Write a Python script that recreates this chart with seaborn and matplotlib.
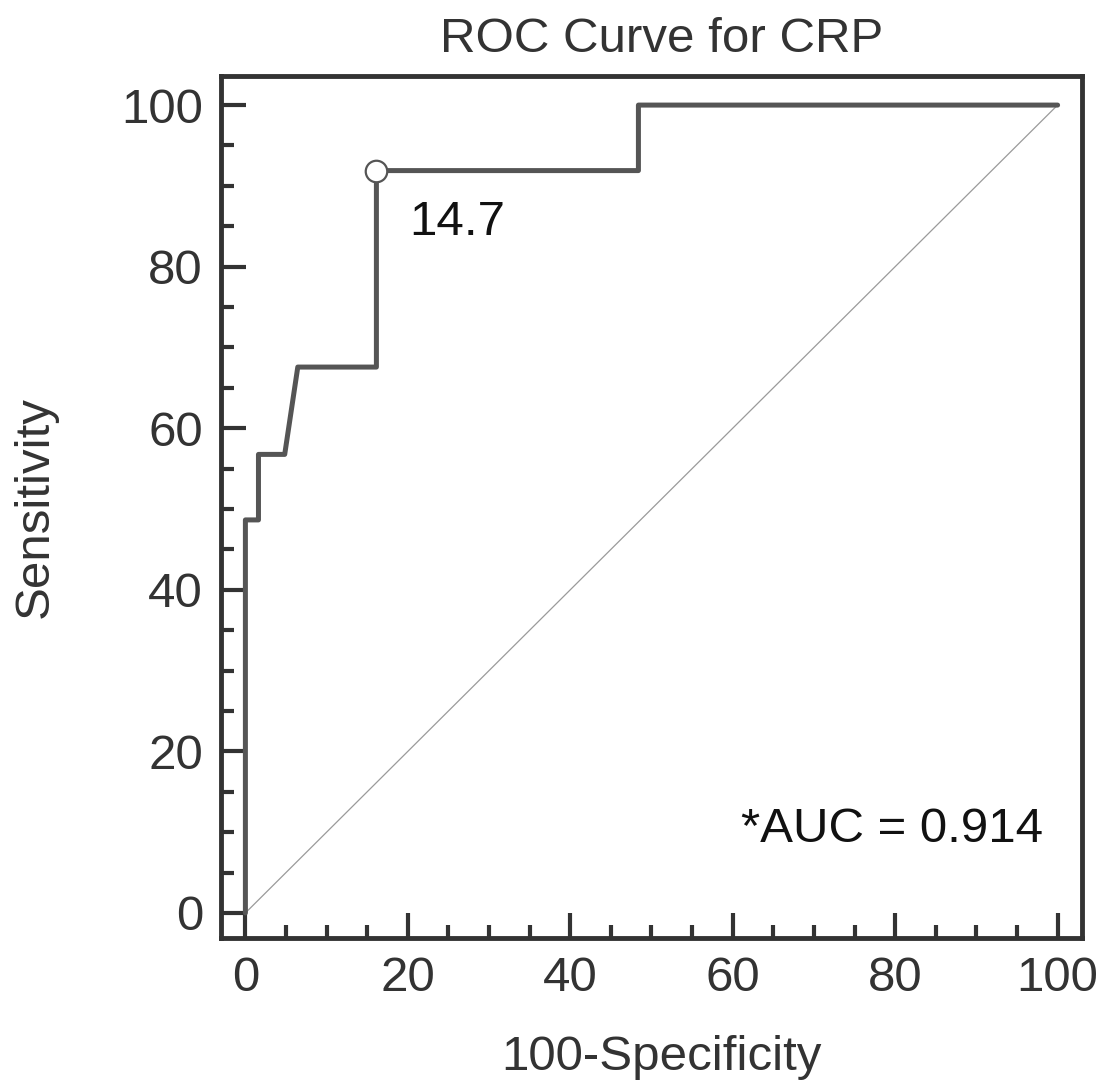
import matplotlib
matplotlib.use("Agg")
import matplotlib.pyplot as plt
import seaborn as sns
import pandas as pd
from matplotlib.ticker import MultipleLocator

# ROC data (100-Specificity, Sensitivity)
fpr = [0.0, 0.0, 1.61, 1.61, 4.84, 6.45, 16.13, 16.13, 48.39, 48.39, 100.0]
tpr = [0.0, 48.65, 48.65, 56.76, 56.76, 67.57, 67.57, 91.89, 91.89, 100.0, 100.0]
diag_x = [0, 100]
diag_y = [0, 100]
cut_x = [16.13]
cut_y = [91.89]
cut_label = "14.7"
auc_label = "*AUC = 0.914"

sns.set_theme(style="white")
plt.rcParams['font.family'] = ['Liberation Sans', 'DejaVu Sans']

FS = 35.5
fig = plt.figure(figsize=(10.98, 10.81), dpi=100)
ax = fig.add_axes([0.2013, 0.1323, 0.7841, 0.7974])

df = pd.DataFrame({"x": fpr, "y": tpr})
ddf = pd.DataFrame({"x": diag_x, "y": diag_y})
sns.lineplot(data=ddf, x="x", y="y", ax=ax, color="#9a9a9a", linewidth=0.9, sort=False, estimator=None)
sns.lineplot(data=df, x="x", y="y", ax=ax, color="#555555", linewidth=3.6, sort=False, estimator=None)
sns.scatterplot(x=cut_x, y=cut_y, ax=ax, s=240, color="white", edgecolor="#555555", linewidth=1.6, zorder=5)

ax.text(20.2, 85.5, cut_label, fontsize=FS, color="#111111", ha="left", va="center")
ax.text(98.2, 10.3, auc_label, fontsize=FS, color="#111111", ha="right", va="center")

ax.set_xlim(-3, 103)
ax.set_ylim(-3.1, 103.6)
ax.xaxis.set_major_locator(MultipleLocator(20))
ax.xaxis.set_minor_locator(MultipleLocator(5))
ax.yaxis.set_major_locator(MultipleLocator(20))
ax.yaxis.set_minor_locator(MultipleLocator(5))
ax.tick_params(axis="both", which="major", direction="in", length=18, width=3,
               labelsize=FS, colors="#333333", pad=13, bottom=True, left=True, top=False, right=False)
ax.tick_params(axis="both", which="minor", direction="in", length=9.5, width=3,
               colors="#333333", bottom=True, left=True, top=False, right=False)
for sp in ax.spines.values():
    sp.set_linewidth(3.5)
    sp.set_color("#333333")

ax.set_xlabel("100-Specificity", fontsize=FS, color="#333333")
ax.set_ylabel("Sensitivity", fontsize=FS, color="#333333")
ax.xaxis.set_label_coords(0.512, -0.112)
ax.yaxis.set_label_coords(-0.19, 0.5)
ax.set_title("ROC Curve for CRP", fontsize=FS, color="#333333", pad=17, x=0.512)

fig.savefig("out.png", dpi=100)
